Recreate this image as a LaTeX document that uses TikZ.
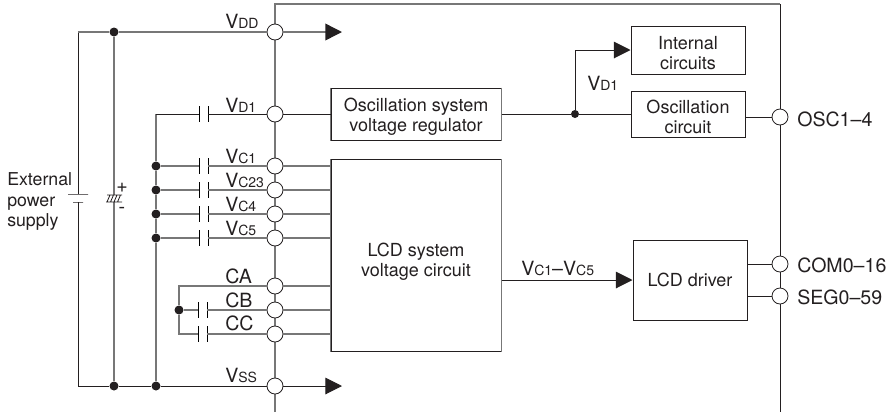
\documentclass[tikz,border=0pt]{standalone}
\usepackage{fontspec}
\setmainfont{TeX Gyre Heros}
\usetikzlibrary{arrows.meta}
\definecolor{wiregray}{HTML}{777777}
\definecolor{inkblack}{HTML}{231F20}
\newcommand{\sublab}[2]{#1{\fontsize{10.5}{12}\selectfont #2}}
\newcommand{\blockstrut}[1]{\rule{0pt}{#1}}
\tikzset{
    wire/.style={line width=.75pt, inkblack},
    graywire/.style={line width=1.05pt, wiregray},
    padnode/.style={draw=inkblack, line width=.6pt, circle, fill=white, minimum size=12pt, inner sep=0pt},
    dotnode/.style={circle, fill=inkblack, minimum size=6.75pt, inner sep=0pt},
    blocknode/.style={draw=inkblack, line width=.75pt, align=center, font=\fontsize{13.5}{15}\selectfont, text=inkblack, inner sep=0pt},
    txtnode/.style={font=\fontsize{14.7}{15.2}\selectfont, text=inkblack, inner sep=0pt, anchor=west},
    extnode/.style={txtnode, font=\fontsize{13.3}{15.2}\selectfont, align=left},
    capnode/.style={minimum width=6.75pt, minimum height=12pt, inner sep=0pt, outer sep=0pt,
        append after command={[graywire]
            (\tikzlastnode.north west) edge (\tikzlastnode.south west)
            (\tikzlastnode.north east) edge (\tikzlastnode.south east)}},
    platenode/.style={draw=inkblack, line width=.75pt, minimum height=0pt, inner sep=0pt, outer sep=0pt},
    bigtip/.style={-{Triangle[length=12.5pt,width=12.5pt,color=inkblack]}}
}
\begin{document}
\begin{tikzpicture}[x=.75pt, y=-.75pt]
\useasboundingbox (0,0) rectangle (889,412);

\coordinate (chiptl) at (275,4);
\coordinate (chiptr) at (780,4);
\coordinate (chipbl) at (275,412);
\coordinate (chipbr) at (780,412);
\draw[graywire] (chipbl) -- (chiptl) -- (chiptr);
\draw[wire] (chiptr) -- (chipbr);

\node[padnode] (pdd) at (275,32) {};
\node[padnode] (pd1) at (275,114) {};
\node[padnode] (pc1) at (275,166) {};
\node[padnode] (pc23) at (275,190) {};
\node[padnode] (pc4) at (275,214) {};
\node[padnode] (pc5) at (275,238) {};
\node[padnode] (pca) at (275,286) {};
\node[padnode] (pcb) at (275,310) {};
\node[padnode] (pcc) at (275,334) {};
\node[padnode] (pss) at (275,386) {};
\node[padnode] (posc) at (780,117) {};
\node[padnode] (pcom) at (780,264) {};
\node[padnode] (pseg) at (780,296) {};

\node[blocknode, minimum width=127.5pt, minimum height=39pt] (reg) at (416,114) {\blockstrut{14.5pt}Oscillation system\\voltage regulator};
\node[blocknode, minimum width=127.5pt, minimum height=144pt] (lcdv) at (416,255.5) {\blockstrut{19pt}LCD system\\voltage circuit};
\node[blocknode, minimum width=85.5pt, minimum height=36pt] (intc) at (688,50) {\blockstrut{14.5pt}Internal\\circuits};
\node[blocknode, minimum width=85.5pt, minimum height=34.5pt] (oscc) at (688,114) {\blockstrut{14.5pt}Oscillation\\circuit};
\node[blocknode, minimum width=85.5pt, minimum height=60pt] (drv) at (690,280) {LCD driver};
\draw[graywire] (reg.north west) -- (reg.south west);
\draw[graywire] (reg.north east) -- (reg.south east);
\draw[graywire] (lcdv.north west) -- (lcdv.south west);
\draw[graywire] (lcdv.north east) -- (lcdv.south east);

\node[dotnode] (ddd) at (114,32) {};
\node[dotnode] (dss1) at (114,386) {};
\node[dotnode] (dss2) at (156,386) {};
\node[dotnode] (dc1) at (156,166) {};
\node[dotnode] (dc23) at (156,190) {};
\node[dotnode] (dc4) at (156,214) {};
\node[dotnode] (dc5) at (156,238) {};
\node[dotnode] (dcb) at (179,310) {};
\node[dotnode, minimum size=6pt] (dvd) at (575,114) {};

\node[capnode] (cd1) at (203.5,114) {};
\node[capnode] (cc1) at (203.5,166) {};
\node[capnode] (cc23) at (203.5,190) {};
\node[capnode] (cc4) at (203.5,214) {};
\node[capnode] (cc5) at (203.5,238) {};
\node[capnode] (ccb) at (202.5,310) {};
\node[capnode] (ccc) at (202.5,334) {};

\coordinate (ltop) at (78,32);
\coordinate (lbot) at (78,386);
\coordinate (vdcorner) at (156,114);
\coordinate (catop) at (179,286);
\coordinate (cabot) at (179,334);
\coordinate (vdup) at (575,50);
\coordinate (addtip) at (342,32);
\coordinate (asstip) at (342,386);
\node[platenode, minimum width=15pt] (batlong) at (78,194) {};
\node[platenode, minimum width=7.5pt] (batshort) at (78,202) {};

\draw[wire] (batlong.north) -- (ltop);
\draw[graywire] (ltop) -- (ddd) -- (pdd);
\draw[wire] (batshort.south) -- (lbot) -- (dss1) -- (dss2) -- (pss);
\draw[graywire] (ddd) -- (114,195);
\draw[graywire] (114,202) -- (dss1);
\draw[line width=.6pt, inkblack] (107,195) -- (122,195) (106,202) -- (122,202)
    (107,202) -- (110,195) (110.5,202) -- (113.5,195) (114,202) -- (117,195) (117.5,202) -- (120.5,195);

\draw[graywire] (vdcorner) -- (dc1) -- (dc23) -- (dc4) -- (dc5) -- (dss2);
\draw[wire] (vdcorner) -- (cd1) -- (pd1);
\draw[graywire] (dc1) -- (cc1) -- (pc1);
\draw[graywire] (dc23) -- (cc23) -- (pc23);
\draw[graywire] (dc4) -- (cc4) -- (pc4);
\draw[graywire] (dc5) -- (cc5) -- (pc5);
\draw[graywire] (pca) -- (catop) -- (dcb) -- (cabot) -- (ccc) -- (pcc);
\draw[graywire] (dcb) -- (ccb) -- (pcb);

\draw[graywire] (pc1) -- (lcdv.west |- pc1);
\draw[graywire] (pc23) -- (lcdv.west |- pc23);
\draw[graywire] (pc4) -- (lcdv.west |- pc4);
\draw[graywire] (pc5) -- (lcdv.west |- pc5);
\draw[graywire] (pca) -- (lcdv.west |- pca);
\draw[graywire] (pcb) -- (lcdv.west |- pcb);
\draw[graywire] (pcc) -- (lcdv.west |- pcc);

\draw[wire] (pd1) -- (reg);
\draw[wire] (reg) -- (dvd) -- (oscc);
\draw[wire, bigtip] (dvd) -- (vdup) -- (intc.west);
\draw[wire] (oscc.east |- posc) -- (posc);
\draw[wire] (drv.east |- pcom) -- (pcom);
\draw[wire] (drv.east |- pseg) -- (pseg);
\draw[wire, bigtip] (lcdv.east |- drv.west) -- (drv.west);
\draw[graywire, bigtip] (pdd) -- (addtip);
\draw[wire, bigtip] (pss) -- (asstip);

\node[txtnode] (lvdd) at (225,21) {\sublab{V}{DD}};
\node[txtnode] (lvd1) at (225,105) {\sublab{V}{D1}};
\node[txtnode] (lvc1) at (225,156) {\sublab{V}{C1}};
\node[txtnode] (lvc23) at (225,180) {\sublab{V}{C23}};
\node[txtnode] (lvc4) at (225,204) {\sublab{V}{C4}};
\node[txtnode] (lvc5) at (225,228) {\sublab{V}{C5}};
\node[txtnode] (lca) at (225,276) {CA};
\node[txtnode] (lcb) at (225,300) {CB};
\node[txtnode] (lcc) at (225,323) {CC};
\node[txtnode] (lvss) at (225,375) {\sublab{V}{SS}};
\node[txtnode] (lvint) at (587,83) {\sublab{V}{D1}};
\node[txtnode] (lvrange) at (521,268) {\sublab{V}{C1}–\sublab{V}{C5}};
\node[txtnode] (losc) at (797,119) {OSC1–4};
\node[txtnode] (lcom) at (797,265) {COM0–16};
\node[txtnode] (lseg) at (797,297) {SEG0–59};
\node[extnode] (lext) at (7,201.5) {External\\power\\supply};
\node[txtnode, anchor=center] (lplus) at (122,188) {+};
\node[txtnode, anchor=center] (lminus) at (122,210) {-};
\end{tikzpicture}
\end{document}
